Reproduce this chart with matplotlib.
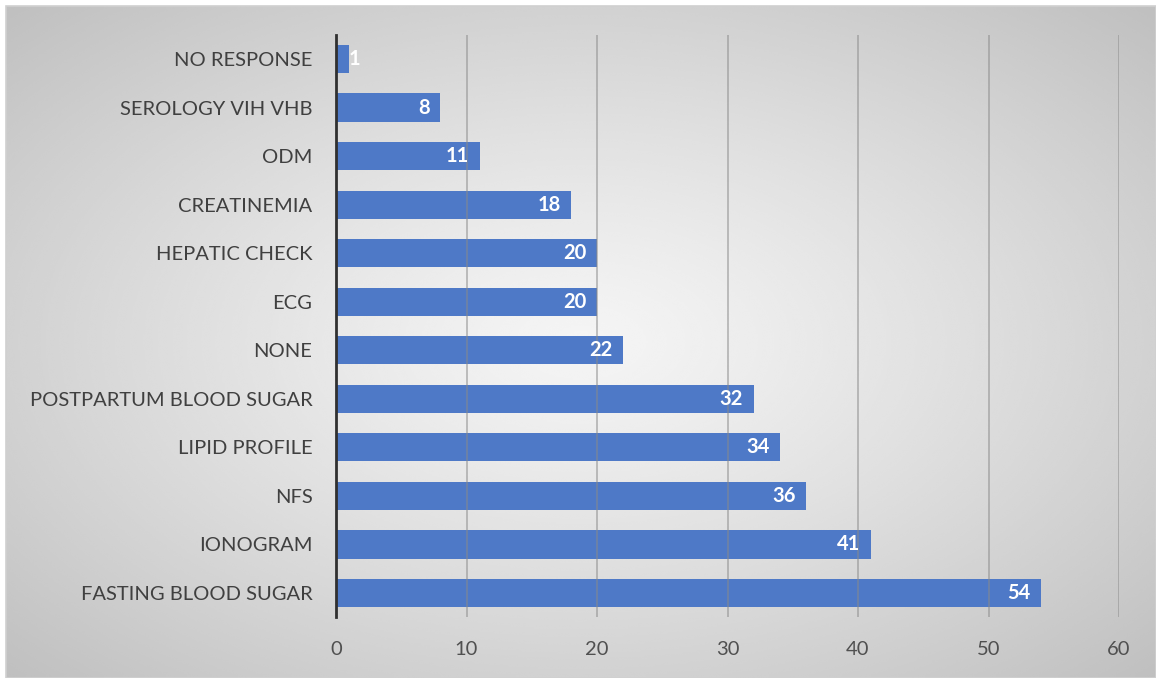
import numpy as np
import matplotlib
matplotlib.use("Agg")
import matplotlib.pyplot as plt

categories = ["NO RESPONSE", "SEROLOGY VIH VHB", "ODM", "CREATINEMIA",
              "HEPATIC CHECK", "ECG", "NONE", "POSTPARTUM BLOOD SUGAR",
              "LIPID PROFILE", "NFS", "IONOGRAM", "FASTING BLOOD SUGAR"]
counts = [1, 8, 11, 18, 20, 20, 22, 32, 34, 36, 41, 54]
xticks = [0, 10, 20, 30, 40, 50, 60]

plt.rcParams['font.family'] = ['Lato', 'DejaVu Sans']

W, H = 1156, 678
fig = plt.figure(figsize=(W / 100, H / 100), dpi=100)

# radial grey background panel
bg = fig.add_axes([6 / W, 0, 1 - 6 / W, 1 - 6 / H], zorder=-10)
yy, xx = np.mgrid[-1:1:400j, -1:1:700j]
r = np.sqrt(xx ** 2 + yy ** 2) / np.sqrt(2)
shade = 0.96 - 0.21 * r ** 1.2
bg.imshow(shade, cmap='gray', vmin=0, vmax=1, aspect='auto',
          extent=[0, 1, 0, 1], interpolation='bicubic')
bg.set_axis_off()
bg.add_patch(plt.Rectangle((0, 0), 1, 1, transform=bg.transAxes, fill=False,
                           edgecolor='#d0d0d0', lw=1.2, clip_on=False))

ax = fig.add_axes([336 / W, 1 - 617.25 / H, (1119 - 336) / W, (617.25 - 34.75) / H])
ax.patch.set_alpha(0)
y = np.arange(len(categories))
ax.barh(y, counts, height=0.58, color='#4E79C7', zorder=2)
for yi, v in zip(y, counts):
    ax.text(max(v - 0.8, 1.9), yi, str(v), ha='right', va='center', color='white',
            fontsize=14.5, fontweight='bold', zorder=4)

ax.set_ylim(len(categories) - 0.5, -0.5)
ax.set_xlim(0, 60)
ax.set_yticks(y)
ax.set_yticklabels(categories, fontsize=14.5, color='#404040')
ax.set_xticks(xticks)
ax.set_xticklabels([str(t) for t in xticks], fontsize=14.5, color='#505050')
ax.tick_params(axis='both', length=0)
ax.tick_params(axis='y', pad=17)
ax.tick_params(axis='x', pad=17)
for t in xticks[1:]:
    ax.axvline(t, color='#8a8a8a', lw=1.3, alpha=0.55, zorder=3)
for s in ['top', 'right', 'bottom']:
    ax.spines[s].set_visible(False)
ax.spines['left'].set_color('#303030')
ax.spines['left'].set_linewidth(2)
ax.spines['left'].set_zorder(5)

fig.savefig("out.png", dpi=100)
